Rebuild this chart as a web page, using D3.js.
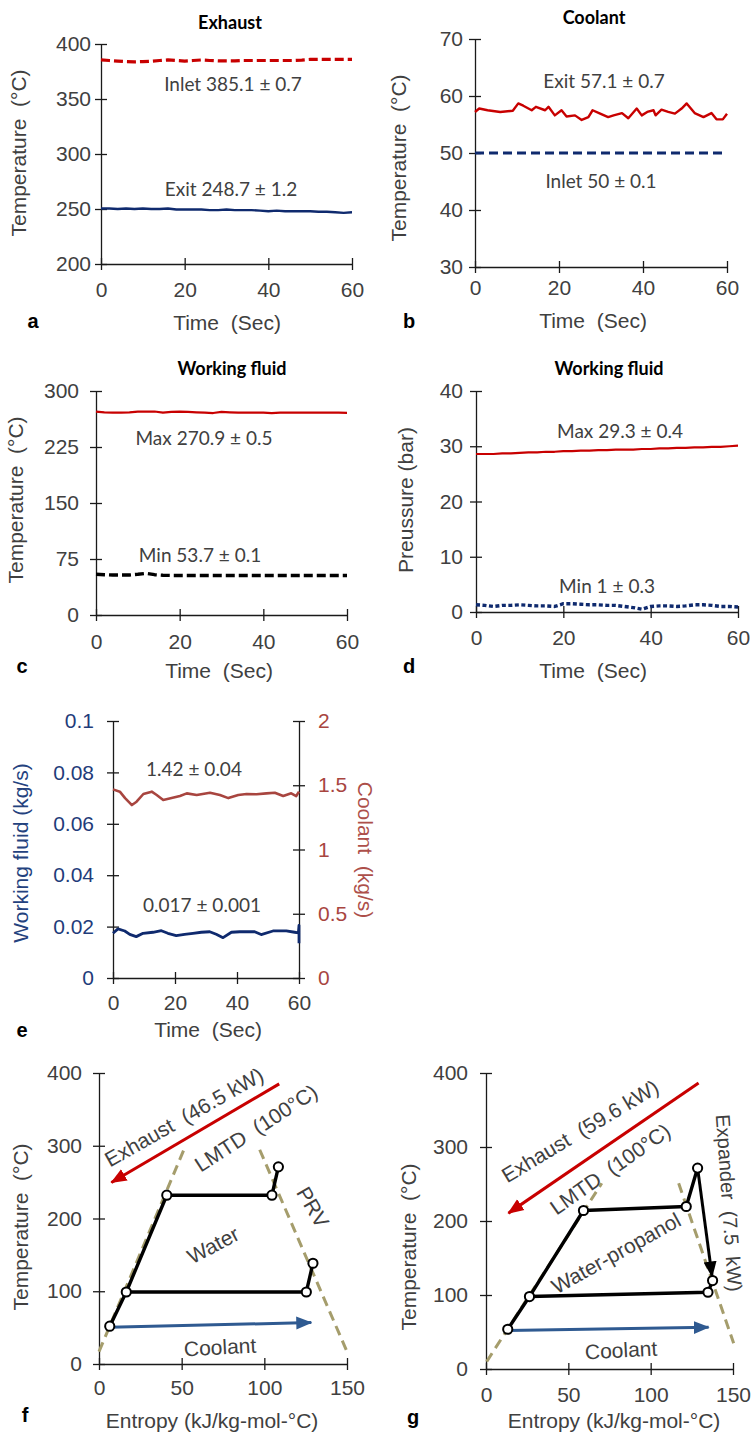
<!DOCTYPE html>
<html lang="en">
<head>
<meta charset="UTF-8" />
<script src="https://d3js.org/d3.v7.min.js"></script>
<style>
  body { margin: 0; background: #fff; }
</style>
<title>Recovery test measurements</title>
</head>
<body>
<script>
// ---------- data ----------
const tA = [0,2,4,6,8,10,12,14,16,18,20,22,24,26,28,30,32,34,36,38,40,42,44,46,48,50,52,54,56,58,60];

// a: exhaust temperatures
const aInlet = [385.5,385,384.5,384,383.8,384,384.3,385,385.5,385,384.5,385,385.5,385,384.6,384.6,384.6,385,385,385,385,385,385,385,385.4,386,386,386,386,386,386];
const aExit = [250.5,250.5,250,250.5,250,250.5,250,250,250.5,249.5,249.5,249.5,249.5,249,249,249.5,249,249,249,248.5,248,248.5,248,248,248,248,247.5,247.5,247,246.5,247];

// b: coolant temperatures
const bT = [0,1,3,6,9,10.3,11.5,13.5,14.5,16.7,17.5,19,20.6,21.8,23.8,25.4,27,28,29.8,31.7,33,35,36.5,38.5,39.7,41,42.5,43,44.4,46,47.6,49.2,50.4,52.3,54.4,56.3,57.5,59,60];
const bExit = [57.2,57.8,57.5,57.2,57.4,58.7,58.3,57.5,58.1,57.5,58.1,56.6,57.5,56.4,56.6,55.8,56.3,57.5,56.9,56.3,56.6,57.0,56.1,57.8,56.6,57.2,57.5,56.6,57.6,57.2,56.9,57.8,58.7,57.0,56.3,57.0,55.9,55.9,56.9];
const bInletT = [0,60];
const bInlet = [50,50];

// c: working fluid temperature
const cMax = [272.5,271.5,271,271,271.5,272.5,272.5,272.5,271,272,272.5,272,271.5,271,270.5,272,271.5,271,271,271,271,270.5,271,271,271,271,271,271,271,271,270.8];
const cMin = [54.5,54,53.5,53.5,53.5,54.5,55.8,54,53.2,53,53,53,53,53,53,53,53,53,53,53,53,53,53,53,53,53,53,53,53,53,53];

// d: working fluid pressure
const dMax = [28.6,28.6,28.6,28.7,28.7,28.8,28.9,28.9,29.0,29.0,29.1,29.1,29.2,29.2,29.3,29.3,29.4,29.4,29.4,29.5,29.5,29.6,29.6,29.7,29.7,29.8,29.8,29.9,29.9,30.0,30.1];
const dMin = [1.3,1.2,1.0,1.2,1.2,1.3,1.2,1.1,1.1,1.0,1.5,1.5,1.4,1.3,1.3,1.2,1.2,1.0,0.8,0.5,1.0,1.1,1.1,1.0,1.1,1.3,1.3,1.2,1.0,1.0,0.9];

// e: mass flow rates
const eCoolT = [0,2.2,3.9,6.1,7.6,9.8,12.5,14.1,16.2,18.9,21.6,23.8,27,31.3,34.5,37.2,40.4,43.1,46.3,49.5,52.2,54.9,57.5,59.1,60];
const eCool = [1.468,1.45,1.40,1.346,1.372,1.432,1.45,1.424,1.385,1.40,1.416,1.437,1.424,1.442,1.424,1.40,1.424,1.432,1.43,1.437,1.442,1.416,1.437,1.416,1.45];
const eWfT = [0,1.6,3.8,5.4,7.5,9.7,12.9,15.6,17.7,20.4,23.1,25.8,28.5,31.2,33.3,35.5,38.2,40.9,45.7,47.8,51.6,55.9,58.6,59.8,60,60];
const eWf = [0.0174,0.0191,0.0183,0.017,0.0161,0.0174,0.0178,0.0184,0.0174,0.0165,0.017,0.0174,0.0178,0.018,0.017,0.0157,0.0178,0.018,0.018,0.0169,0.0183,0.0183,0.0178,0.0176,0.0205,0.0135];

// f: T-s diagram, water
const fCycleS = [6.5,16.5,41,104.6,108.5];
const fCycleT = [52,99,232,232,271];
const fCondS = [16.5,125.4,129.4];
const fCondT = [99,99,138.5];
const fDomeLS = [0,51.8], fDomeLT = [17,297];
const fDomeRS = [97.2,150], fDomeRT = [294.5,17];
const fExhS = [109,7.5], fExhT = [385,249.5];
const fCoolS = [6.5,128.4], fCoolT = [50.5,57];

// g: T-s diagram, water-propanol
const gCycleS = [13.2,26.4,59.2,121.6,128.5];
const gCycleT = [53.7,97.9,214.2,219.6,271.5];
const gExpS = [128.5,137.3], gExpT = [271.5,125];
const gCondS = [26.4,134.8,137.6];
const gCondT = [97.9,103.7,119.5];
const gDomeLS = [0.4,70.3], gDomeLT = [10,251];
const gDomeRS = [117,150.4], gDomeRT = [251,34.7];
const gExhS = [129.1,13.6], gExhT = [386.5,210.6];
const gCoolS = [13.2,135.2], gCoolT = [51.9,56.4];

const timeTicks = [0,20,40,60];
const sTicks = [0,50,100,150];
const tsTicks = [0,100,200,300,400];

// ---------- styles ----------
const AX = "'Liberation Sans', Arial, sans-serif";
const NOTE = "Lato, 'Open Sans', sans-serif";
const INK = "#404040";
const RED = "#c80000";
const NAVY = "#0f2a6e";
const BROWN = "#a8453f";
const KHAKI = "#a59d6c";
const BLUE = "#2f5a91";

const svg = d3.select("body").append("svg")
  .attr("width", 751).attr("height", 1434)
  .style("display", "block");

const defs = svg.append("defs");
function marker(id, color) {
  defs.append("marker")
    .attr("id", id)
    .attr("markerUnits", "userSpaceOnUse")
    .attr("viewBox", "0 -7 16 14")
    .attr("refX", 15).attr("refY", 0)
    .attr("markerWidth", 16).attr("markerHeight", 14)
    .attr("orient", "auto")
    .append("path").attr("d", "M0,-6.5L16,0L0,6.5Z").attr("fill", color);
}
marker("arrRed", RED);
marker("arrBlue", BLUE);
marker("arrBlack", "#000");

function styleAxis(ax, color) {
  ax.attr("font-size", null).attr("font-family", null);
  ax.select(".domain").attr("stroke", "#1a1a1a").attr("stroke-width", 1.3);
  ax.selectAll(".tick line").attr("stroke", "#1a1a1a").attr("stroke-width", 1.3);
  ax.selectAll(".tick text").attr("fill", color).style("font", `21px ${AX}`);
}

function leftAxis(x0, y, ticks, gap, color = INK) {
  const ax = svg.append("g").attr("transform", `translate(${x0},0)`)
    .call(d3.axisLeft(y).tickValues(ticks).tickSize(6).tickSizeOuter(0)
      .tickPadding(gap - 6).tickFormat((d) => String(d)));
  styleAxis(ax, color);
  ax.selectAll(".tick line").attr("x1", 6);
}

function rightAxis(x0, y, ticks, gap, color) {
  const ax = svg.append("g").attr("transform", `translate(${x0},0)`)
    .call(d3.axisRight(y).tickValues(ticks).tickSize(6).tickSizeOuter(0)
      .tickPadding(gap - 6).tickFormat((d) => String(d)));
  styleAxis(ax, color);
  ax.selectAll(".tick line").attr("x1", -6);
}

function bottomAxis(y0, x, ticks, off) {
  const ax = svg.append("g").attr("transform", `translate(0,${y0})`)
    .call(d3.axisBottom(x).tickValues(ticks).tickSize(6).tickSizeOuter(0)
      .tickPadding(off - 6).tickFormat((d) => String(d)));
  styleAxis(ax, INK);
  ax.selectAll(".tick line").attr("y1", -6);
}

function label(txt, x, y, opt = {}) {
  const t = svg.append("text")
    .attr("transform", `translate(${x},${y}) rotate(${opt.rot || 0})`)
    .attr("text-anchor", opt.anchor || "middle")
    .attr("dominant-baseline", opt.base || "auto")
    .attr("fill", opt.color || INK)
    .style("font", `${opt.weight || "normal"} ${opt.size || 21}px ${opt.font || AX}`)
    .style("white-space", "pre")
    .text(txt);
  return t;
}

function series(xs, ys, x, y, color, width, dash) {
  const line = d3.line().x((d, i) => x(xs[i])).y((d) => y(d));
  svg.append("path")
    .datum(ys)
    .attr("d", line)
    .attr("fill", "none")
    .attr("stroke", color)
    .attr("stroke-width", width)
    .attr("stroke-linejoin", "round")
    .attr("stroke-dasharray", dash || null);
}

function arrow(xs, ys, x, y, color, width, id) {
  svg.append("line")
    .attr("x1", x(xs[0])).attr("y1", y(ys[0]))
    .attr("x2", x(xs[1])).attr("y2", y(ys[1]))
    .attr("stroke", color).attr("stroke-width", width)
    .attr("marker-end", `url(#${id})`);
}

function nodes(xs, ys, x, y) {
  svg.append("g").selectAll("circle")
    .data(xs)
    .join("circle")
    .attr("cx", (d) => x(d))
    .attr("cy", (d, i) => y(ys[i]))
    .attr("r", 4.6)
    .attr("fill", "#fff")
    .attr("stroke", "#000")
    .attr("stroke-width", 2);
}

// ---------- a: Exhaust ----------
{
  const x = d3.scaleLinear().domain([0, 60]).range([101, 352]);
  const y = d3.scaleLinear().domain([200, 400]).range([264, 44]);
  leftAxis(101, y, [200,250,300,350,400], 10);
  bottomAxis(264, x, timeTicks, 18);
  series(tA, aInlet, x, y, RED, 3.2, "9,4");
  series(tA, aExit, x, y, NAVY, 2.4);
  label("Exhaust", 230, 29, { font: NOTE, weight: "bold", size: 18, color: "#000" });
  label("Inlet 385.1 \u00b1 0.7", 233, 91, { font: NOTE, size: 19 });
  label("Exit 248.7 \u00b1 1.2", 231, 196, { font: NOTE, size: 19 });
  label("Temperature\u00a0 (°C)", 26, 153, { rot: -90 });
  label("Time\u00a0 (Sec)", 227, 330);
  label("a", 33, 328, { weight: "bold", size: 20, color: "#000" });
}

// ---------- b: Coolant ----------
{
  const x = d3.scaleLinear().domain([0, 60]).range([475, 727]);
  const y = d3.scaleLinear().domain([30, 70]).range([267, 39]);
  leftAxis(475, y, [30,40,50,60,70], 12);
  bottomAxis(267, x, timeTicks, 13);
  series(bT, bExit, x, y, RED, 2.4);
  series(bInletT, bInlet, x, y, NAVY, 3, "9,5");
  label("Coolant", 594, 24, { font: NOTE, weight: "bold", size: 18, color: "#000" });
  label("Exit 57.1 \u00b1 0.7", 604, 88, { font: NOTE, size: 19 });
  label("Inlet 50 \u00b1 0.1", 601, 188, { font: NOTE, size: 19 });
  label("Temperature\u00a0 (°C)", 406, 158, { rot: -90 });
  label("Time\u00a0 (Sec)", 593, 328);
  label("b", 409, 328, { weight: "bold", size: 20, color: "#000" });
}

// ---------- c: Working fluid temperature ----------
{
  const x = d3.scaleLinear().domain([0, 60]).range([96, 347]);
  const y = d3.scaleLinear().domain([0, 300]).range([615, 391]);
  leftAxis(96, y, [0,75,150,225,300], 17);
  bottomAxis(615, x, timeTicks, 19);
  series(tA, cMax, x, y, RED, 2.2);
  series(tA, cMin, x, y, "#000", 3.4, "9,4");
  label("Working fluid", 232, 375, { font: NOTE, weight: "bold", size: 18, color: "#000" });
  label("Max 270.9 \u00b1 0.5", 204, 445, { font: NOTE, size: 19 });
  label("Min 53.7 \u00b1 0.1", 200, 562, { font: NOTE, size: 19 });
  label("Temperature\u00a0 (°C)", 23, 500, { rot: -90 });
  label("Time\u00a0 (Sec)", 219, 678);
  label("c", 22, 673, { weight: "bold", size: 20, color: "#000" });
}

// ---------- d: Working fluid pressure ----------
{
  const x = d3.scaleLinear().domain([0, 60]).range([476, 738]);
  const y = d3.scaleLinear().domain([0, 40]).range([612, 391]);
  leftAxis(476, y, [0,10,20,30,40], 13);
  bottomAxis(612, x, timeTicks, 18);
  series(tA, dMax, x, y, RED, 2.2);
  series(tA, dMin, x, y, NAVY, 3.4, "4,2.5");
  label("Working fluid", 609, 375, { font: NOTE, weight: "bold", size: 18, color: "#000" });
  label("Max 29.3 \u00b1 0.4", 620, 438, { font: NOTE, size: 19 });
  label("Min 1 \u00b1 0.3", 607, 593, { font: NOTE, size: 19 });
  label("Preussure (bar)", 413, 500, { rot: -90 });
  label("Time\u00a0 (Sec)", 593, 678);
  label("d", 409, 673, { weight: "bold", size: 20, color: "#000" });
}

// ---------- e: Mass flow rates ----------
{
  const x = d3.scaleLinear().domain([0, 60]).range([113, 299]);
  const yL = d3.scaleLinear().domain([0, 0.1]).range([978, 721]);
  const yR = d3.scaleLinear().domain([0, 2]).range([978, 721]);
  leftAxis(113, yL, [0,0.02,0.04,0.06,0.08,0.1], 19, "#1f3c7a");
  rightAxis(299, yR, [0,0.5,1,1.5,2], 19, BROWN);
  bottomAxis(978, x, timeTicks, 17);
  series(eCoolT, eCool, x, yR, BROWN, 2.6);
  series(eWfT, eWf, x, yL, NAVY, 2.8);
  label("1.42 \u00b1 0.04", 194, 776, { font: NOTE, size: 19 });
  label("0.017 \u00b1 0.001", 202, 912, { font: NOTE, size: 19 });
  label("Working fluid (kg/s)", 28, 853, { rot: -90, color: "#24427e" });
  label("Coolant\u00a0 (kg/s)", 358, 850, { rot: 90, color: "#ad4f4a" });
  label("Time\u00a0 (Sec)", 208, 1037);
  label("e", 22, 1037, { weight: "bold", size: 20, color: "#000" });
}

// ---------- f: T-s water ----------
{
  const x = d3.scaleLinear().domain([0, 150]).range([99, 347]);
  const y = d3.scaleLinear().domain([0, 400]).range([1364, 1073]);
  leftAxis(99, y, tsTicks, 17);
  bottomAxis(1364, x, sTicks, 16);
  series(fDomeLS, fDomeLT, x, y, KHAKI, 3, "10,6");
  series(fDomeRS, fDomeRT, x, y, KHAKI, 3, "10,6");
  arrow(fExhS, fExhT, x, y, RED, 3, "arrRed");
  arrow(fCoolS, fCoolT, x, y, BLUE, 3, "arrBlue");
  series(fCycleS, fCycleT, x, y, "#000", 3.4);
  series(fCondS, fCondT, x, y, "#000", 3.4);
  nodes(fCycleS.concat(fCondS.slice(1)), fCycleT.concat(fCondT.slice(1)), x, y);
  label("Exhaust\u00a0 (46.5 kW)", 184, 1117, { rot: -29.6, base: "central" });
  label("LMTD\u00a0 (100°C)", 256, 1128, { rot: -33, base: "central" });
  label("Water", 213, 1245, { rot: -28, base: "central" });
  label("PRV", 313, 1207, { rot: 60, base: "central" });
  label("Coolant", 220, 1347, { rot: -3, base: "central" });
  label("Temperature\u00a0 (°C)", 28, 1227, { rot: -90 });
  label("Entropy (kJ/kg-mol-°C)", 212, 1428);
  label("f", 25, 1422, { weight: "bold", size: 20, color: "#000" });
}

// ---------- g: T-s water-propanol ----------
{
  const x = d3.scaleLinear().domain([0, 150]).range([486, 733]);
  const y = d3.scaleLinear().domain([0, 400]).range([1369, 1073]);
  leftAxis(486, y, tsTicks, 18);
  bottomAxis(1369, x, sTicks, 18);
  series(gDomeLS, gDomeLT, x, y, KHAKI, 3, "10,6");
  series(gDomeRS, gDomeRT, x, y, KHAKI, 3, "10,6");
  arrow(gExhS, gExhT, x, y, RED, 3, "arrRed");
  arrow(gCoolS, gCoolT, x, y, BLUE, 3, "arrBlue");
  series(gCycleS, gCycleT, x, y, "#000", 3.4);
  series(gCondS, gCondT, x, y, "#000", 3.4);
  arrow(gExpS, gExpT, x, y, "#000", 3, "arrBlack");
  nodes(gCycleS.concat(gCondS.slice(1)), gCycleT.concat(gCondT.slice(1)), x, y);
  label("Exhaust\u00a0 (59.6 kW)", 580, 1131, { rot: -31, base: "central" });
  label("LMTD\u00a0 (100°C)", 610, 1169, { rot: -35, base: "central" });
  label("Water-propanol", 616, 1253, { rot: -29, base: "central" });
  label("Expander\u00a0 (7.5\u00a0 kW)", 729, 1203, { rot: 86, base: "central", size: 20 });
  label("Coolant", 621, 1350, { rot: -3, base: "central" });
  label("Temperature\u00a0 (°C)", 416, 1247, { rot: -90 });
  label("Entropy (kJ/kg-mol-°C)", 614, 1428);
  label("g", 413, 1424, { weight: "bold", size: 20, color: "#000" });
}
</script>
</body>
</html>
